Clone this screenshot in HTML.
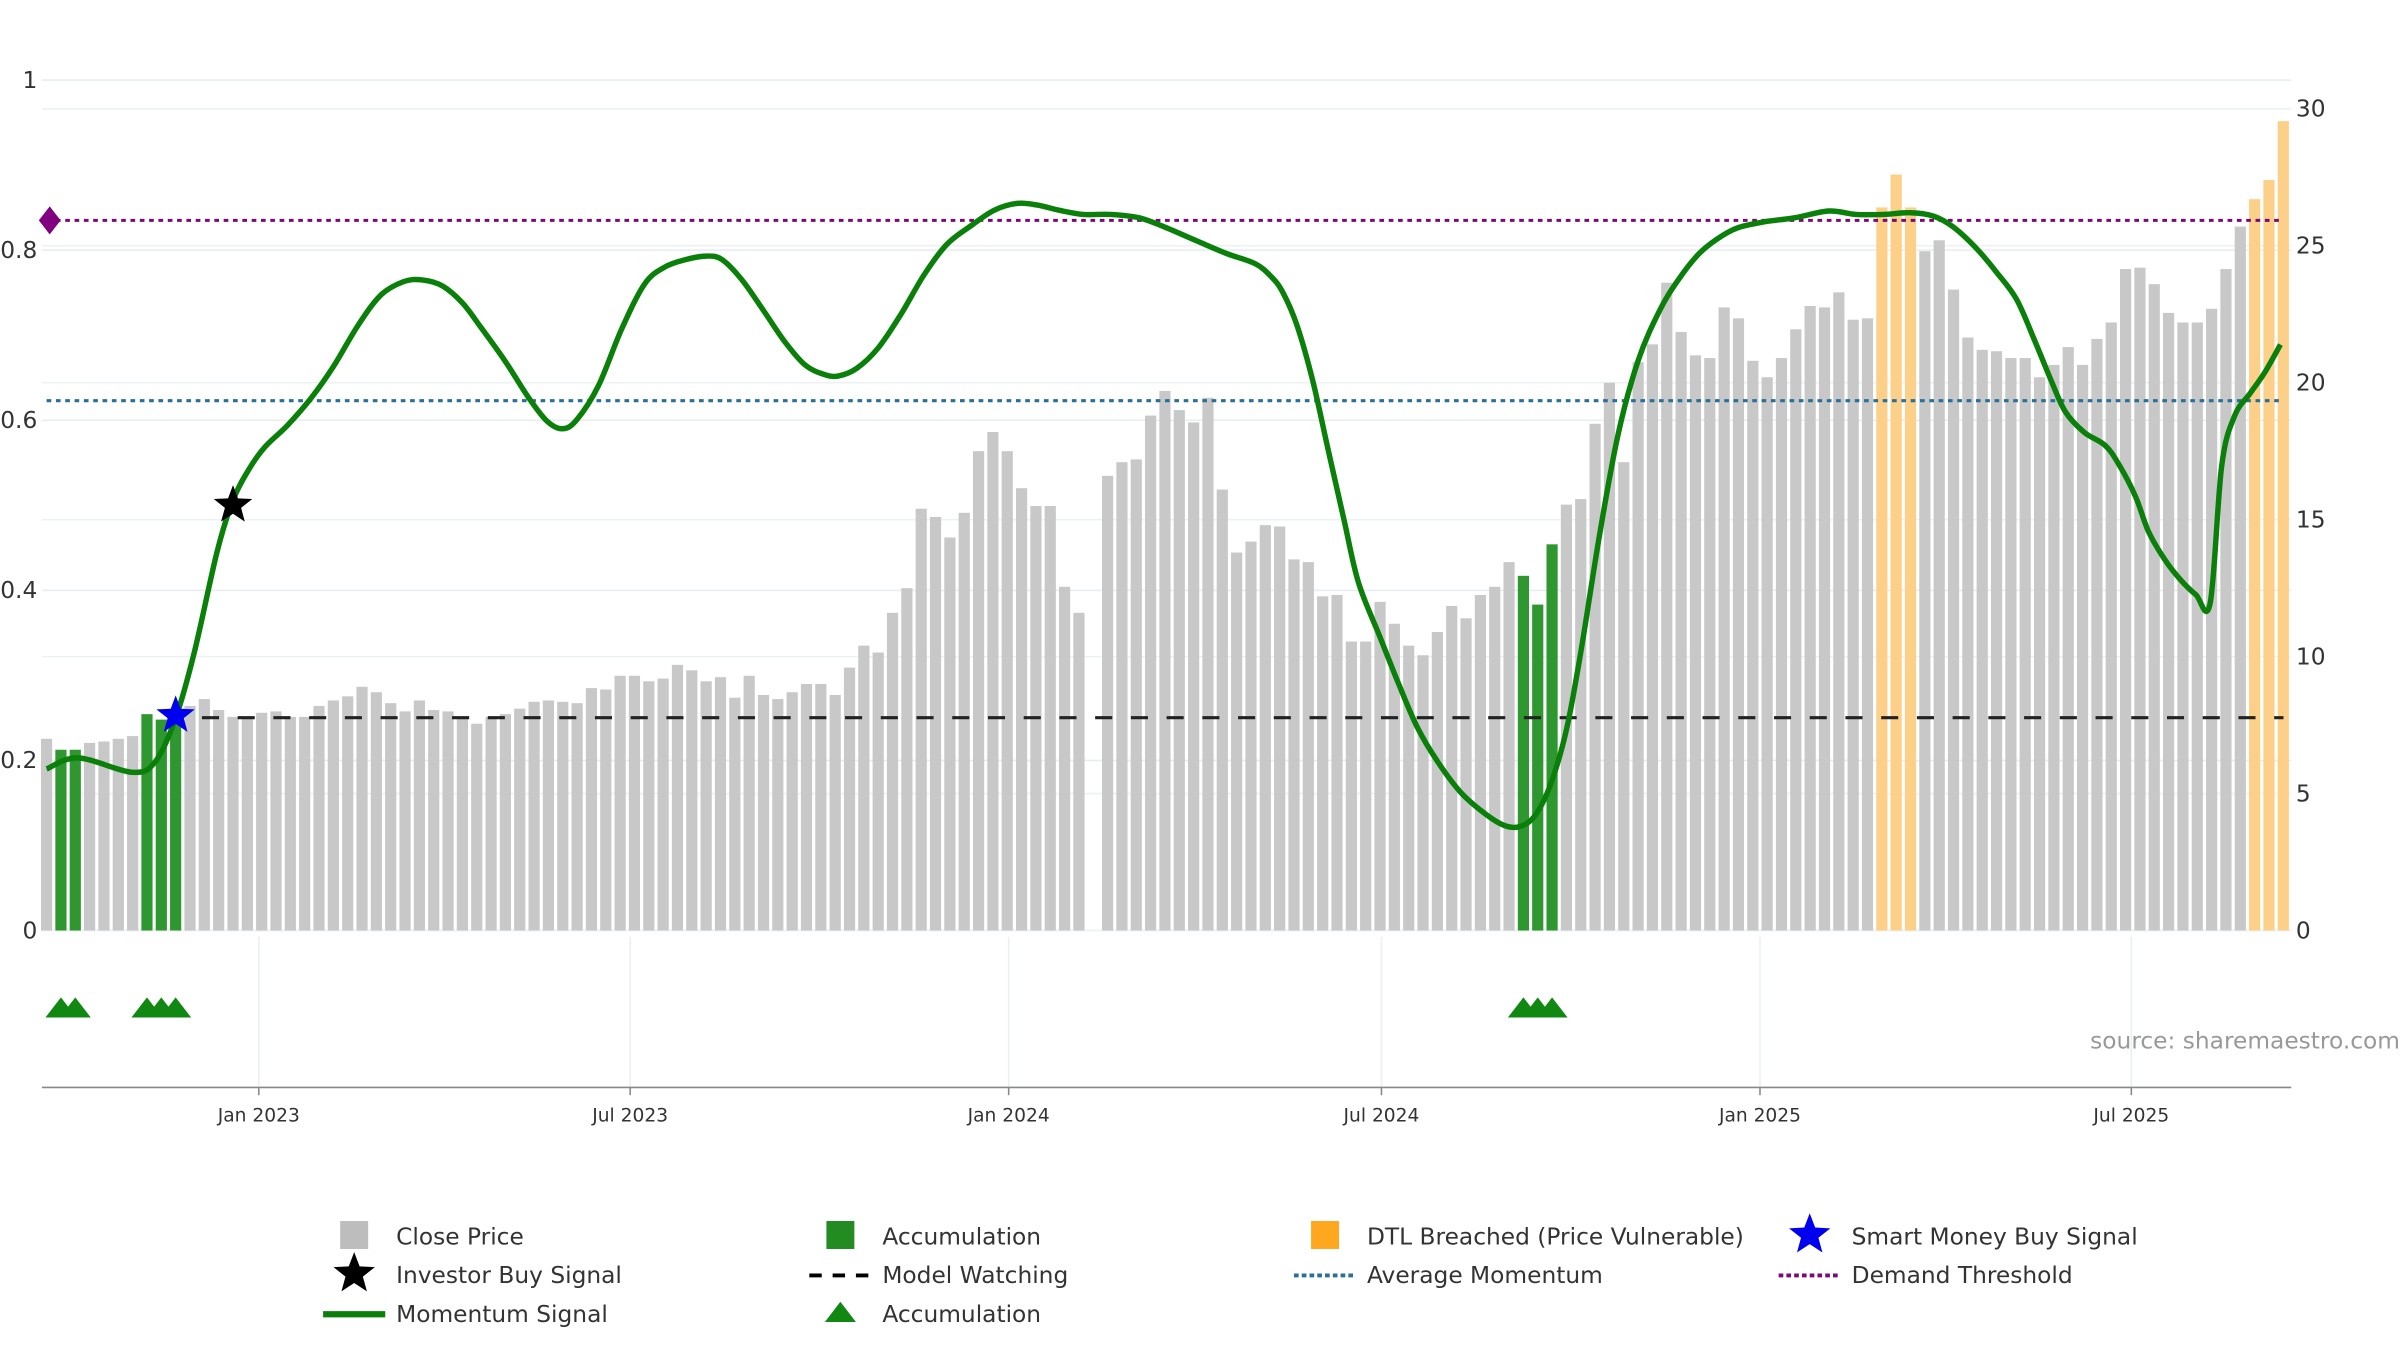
<!DOCTYPE html>
<html><head><meta charset="utf-8"><style>
html,body{margin:0;padding:0;background:#fff;}
svg{display:block;font-family:"DejaVu Sans","Liberation Sans",sans-serif;}
</style></head><body>
<svg id="chart" xmlns="http://www.w3.org/2000/svg" width="2400" height="1350" viewBox="0 0 1545 869">
<g id="grid"></g>
<g id="bars"></g>
<g id="lines"></g>
<g id="mom"></g>
<g id="marks"></g>
<g id="axes"></g>
<text x="1545" y="675" text-anchor="end" font-size="15" fill="#999">source: sharemaestro.com</text>
<g id="legend" font-size="15" fill="#333"></g>
</svg>
<script>
const closePrices=[7.0,6.6,6.6,6.85,6.9,7.0,7.1,7.9,7.7,7.7,8.2,8.45,8.05,7.8,7.8,7.95,8.0,7.8,7.8,8.2,8.4,8.55,8.9,8.7,8.3,8.0,8.4,8.05,8.0,7.8,7.55,7.8,7.9,8.1,8.35,8.4,8.35,8.3,8.85,8.8,9.3,9.3,9.1,9.2,9.7,9.5,9.1,9.25,8.5,9.3,8.6,8.45,8.7,9.0,9.0,8.6,9.6,10.4,10.15,11.6,12.5,15.4,15.1,14.35,15.25,17.5,18.2,17.5,16.15,15.5,15.5,12.55,11.6,0,16.6,17.1,17.2,18.8,19.7,19.0,18.55,19.45,16.1,13.8,14.2,14.8,14.75,13.55,13.45,12.2,12.25,10.55,10.55,12.0,11.2,10.4,10.05,10.9,11.85,11.4,12.25,12.55,13.45,12.95,11.9,14.1,15.55,15.75,18.5,20.0,17.1,20.75,21.4,23.65,21.85,21.0,20.9,22.75,22.35,20.8,20.2,20.9,21.95,22.8,22.75,23.3,22.3,22.35,26.4,27.6,26.4,24.8,25.2,23.4,21.65,21.2,21.15,20.9,20.9,20.2,20.65,21.3,20.65,21.6,22.2,24.15,24.2,23.6,22.55,22.2,22.2,22.7,24.15,25.7,26.7,27.4,29.55];
const accumulationWeeks=[1,2,7,8,9,103,104,105];
const dtlWeeks=[128,129,130,154,155,156];
const momentumWeek=[0,2.2,6,7.6,9,10.3,11.9,13,14.1,15.2,16.8,18.4,20,21.7,23.3,24.9,26.2,27.6,29,30.3,32,33.6,34.9,36,37,38.5,40.1,41.7,43.1,44.6,46,47.1,48.5,50,51.5,52.9,54.2,55.2,56.5,58,59.6,61.2,62.8,64.5,66.1,67.7,69.1,70.6,72.3,74.2,76.2,78,80.2,82.3,84.3,85.4,86.2,87.2,88.3,89.4,90.5,91.5,93,94.3,95.6,97,98.6,100.2,101.6,102.7,103.8,104.9,106,107,108.3,109.6,111,112.5,113.8,115.2,116.5,117.9,119.7,121.9,124.3,126.2,128.1,130,131.6,133,134.6,136,137.4,138.7,139.8,140.8,142.1,143.6,144.6,145.7,146.6,147.7,148.8,149.9,150.9,151.7,152.6,153.7,154.7,155.8];
const momentumVal=[0.19,0.203,0.186,0.199,0.25,0.327,0.446,0.506,0.542,0.568,0.594,0.625,0.663,0.711,0.747,0.763,0.765,0.758,0.738,0.709,0.669,0.627,0.599,0.59,0.601,0.641,0.707,0.76,0.78,0.789,0.793,0.789,0.765,0.729,0.692,0.665,0.654,0.652,0.661,0.685,0.725,0.771,0.807,0.829,0.847,0.855,0.853,0.847,0.842,0.842,0.838,0.827,0.811,0.796,0.784,0.769,0.751,0.712,0.647,0.564,0.482,0.409,0.345,0.29,0.239,0.199,0.163,0.139,0.124,0.122,0.135,0.172,0.236,0.327,0.464,0.583,0.67,0.729,0.765,0.795,0.813,0.826,0.833,0.838,0.846,0.842,0.842,0.844,0.84,0.827,0.802,0.774,0.742,0.692,0.647,0.61,0.586,0.57,0.546,0.51,0.469,0.437,0.413,0.395,0.385,0.546,0.605,0.632,0.656,0.689];
const leftTicks=[0,0.2,0.4,0.6,0.8,1];
const leftTickLabels=["0","0.2","0.4","0.6","0.8","1"];
const rightTicks=[0,5,10,15,20,25,30];
const dateTickWeeks=[14.8,40.7,67.1,93.1,119.5,145.4];
const dateTickLabels=["Jan 2023","Jul 2023","Jan 2024","Jul 2024","Jan 2025","Jul 2025"];
const demandThreshold=0.835, avgMomentum=0.623, modelWatching=7.77;
const investorSignal=[13,0.5], smartSignal=[9,7.85];

const NS="http://www.w3.org/2000/svg";
const xW=w=>30+9.23*w;
const yL=v=>599-547.5*v;
const yR=v=>599-17.633*v;
function mk(tag,attrs,parent){const e=document.createElementNS(NS,tag);for(const k in attrs)e.setAttribute(k,attrs[k]);parent.appendChild(e);return e;}
const grid=document.getElementById('grid'),bars=document.getElementById('bars'),lines=document.getElementById('lines'),mom=document.getElementById('mom'),marks=document.getElementById('marks'),axes=document.getElementById('axes'),legend=document.getElementById('legend');

leftTicks.forEach((t,i)=>{
  const l=mk('line',{x1:27,x2:1475,y1:yL(t),y2:yL(t),stroke:'#e8ecf0','stroke-width':1},grid);
  
  
  const tx=mk('text',{x:24,y:yL(t)+5,'text-anchor':'end','font-size':15,fill:'#333'},axes);
  tx.textContent=leftTickLabels[i];
  
  
});
rightTicks.forEach(t=>{
  const l=mk('line',{x1:27,x2:1475,y1:yR(t),y2:yR(t),stroke:'#eef1f4','stroke-width':1},grid);
  
  
  const tx=mk('text',{x:1478,y:yR(t)+5,'font-size':15,fill:'#333'},axes);
  tx.textContent=String(t);
  
  
});
dateTickWeeks.forEach((w,i)=>{
  const l=mk('line',{x1:xW(w),x2:xW(w),y1:603,y2:700,stroke:'#eceef0','stroke-width':1},grid);
  
  
  const tk=mk('line',{x1:xW(w),x2:xW(w),y1:700,y2:705,stroke:'#888','stroke-width':1},axes);
  
  
  const tx=mk('text',{x:xW(w),y:722,'text-anchor':'middle','font-size':12,fill:'#333'},axes);
  tx.textContent=dateTickLabels[i];
  
  
});
const ax=mk('line',{x1:27,x2:1475,y1:700,y2:700,stroke:'#888','stroke-width':1},axes);



closePrices.forEach((v,i)=>{
  if(v<=0)return;
  let c='#c8c8c8';
  if(accumulationWeeks.includes(i))c='#2f972f';
  if(dtlWeeks.includes(i))c='#fdd08a';
  const r=mk('rect',{x:xW(i)-3.6,y:yR(v),width:7.2,height:yR(0)-yR(v),fill:c},bars);
  
  
});

const mw=mk('line',{x1:xW(0)+100,x2:1470,y1:yR(modelWatching),y2:yR(modelWatching),stroke:'#222','stroke-width':2,'stroke-dasharray':'11 12'},lines);


const am=mk('line',{x1:30,x2:1470,y1:yL(avgMomentum),y2:yL(avgMomentum),stroke:'#2a6f97','stroke-width':2,'stroke-dasharray':'3 3'},lines);


const dt=mk('line',{x1:30,x2:1470,y1:yL(demandThreshold),y2:yL(demandThreshold),stroke:'#7a0a7a','stroke-width':2,'stroke-dasharray':'3 3'},lines);


const dy=yL(demandThreshold);
const dm=mk('path',{d:`M32 ${dy-9} L39 ${dy} L32 ${dy+9} L25 ${dy} Z`,fill:'#800080'},lines);



const pts=momentumWeek.map((w,i)=>[xW(w),yL(momentumVal[i])]);
let d=`M${pts[0][0]} ${pts[0][1]}`;
for(let i=0;i<pts.length-1;i++){
  const p0=pts[Math.max(0,i-1)],p1=pts[i],p2=pts[i+1],p3=pts[Math.min(pts.length-1,i+2)];
  d+=` C${p1[0]+(p2[0]-p0[0])/6} ${p1[1]+(p2[1]-p0[1])/6} ${p2[0]-(p3[0]-p1[0])/6} ${p2[1]-(p3[1]-p1[1])/6} ${p2[0]} ${p2[1]}`;
}
const ml=mk('path',{d:d,fill:'none',stroke:'#0a800a','stroke-width':3.5,'stroke-linejoin':'round'},mom);



function star(cx,cy,R,fill,parent){
  let p='';for(let k=0;k<10;k++){const a=-Math.PI/2+k*Math.PI/5;const r=k%2?R*0.42:R;p+=(k?'L':'M')+(cx+r*Math.cos(a)).toFixed(1)+' '+(cy+r*Math.sin(a)).toFixed(1);}
  return mk('path',{d:p+'Z',fill:fill},parent);
}
const is=star(xW(investorSignal[0]),yL(investorSignal[1]),13,'#000',marks);


const ss=star(xW(smartSignal[0]),yR(smartSignal[1]),13,'#0000ee',marks);


accumulationWeeks.forEach(w=>{
  const x=xW(w);
  const t=mk('path',{d:`M${x-10} 655 L${x} 642 L${x+10} 655 Z`,fill:'#118811'},marks);
  
  
});

const items=[
 [228,796,'rect','#bdbdbd','Close Price'],[541,796,'rect','#228b22','Accumulation'],[853,796,'rect','#ffa81f','DTL Breached (Price Vulnerable)'],[1165,796,'bstar','#0000ee','Smart Money Buy Signal'],
 [228,821,'kstar','#000','Investor Buy Signal'],[541,821,'dash','#000','Model Watching'],[853,821,'dot','#2a6f97','Average Momentum'],[1165,821,'dot','#7a0a7a','Demand Threshold'],
 [228,846,'line','#0a800a','Momentum Signal'],[541,846,'tri','#118811','Accumulation']];
items.forEach(it=>{
  const [x,y,t,c,label]=it;
  const g=mk('g',{},legend);
  
  
  if(t==='rect')mk('rect',{x:x-9,y:y-10,width:18,height:18,fill:c},g);
  else if(t==='bstar'||t==='kstar')star(x,y-1,14,c,g);
  else if(t==='dash')mk('line',{x1:x-20,x2:x+20,y1:y,y2:y,stroke:c,'stroke-width':2.5,'stroke-dasharray':'8 7'},g);
  else if(t==='dot')mk('line',{x1:x-20,x2:x+20,y1:y,y2:y,stroke:c,'stroke-width':2.5,'stroke-dasharray':'3 2'},g);
  else if(t==='line')mk('line',{x1:x-20,x2:x+20,y1:y,y2:y,stroke:c,'stroke-width':4},g);
  else if(t==='tri')mk('path',{d:`M${x-10} ${y+5} L${x} ${y-8} L${x+10} ${y+5}Z`,fill:c},g);
  const tx=mk('text',{x:x+27,y:y+5,'font-size':15,fill:'#333'},g);
  tx.textContent=label;
});
</script>
</body></html>
